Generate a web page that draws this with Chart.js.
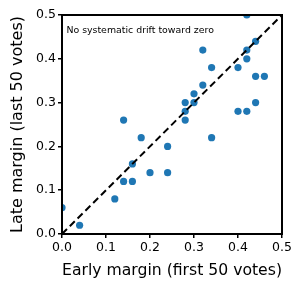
<!DOCTYPE html>
<html>
<head>
<meta charset="utf-8">
<script src="https://cdn.jsdelivr.net/npm/chart.js@4"></script>
<style>
  html, body { margin: 0; padding: 0; background: #fff; }
  #wrap { width: 302px; height: 288px; }
</style>
</head>
<body>
<div id="wrap"><canvas id="chart" width="302" height="288"></canvas></div>
<script>
// early vs late margin, one point per race
const earlyMargin = [0.42, 0.44, 0.42, 0.32, 0.42, 0.34, 0.40, 0.44, 0.46, 0.32,
  0.30, 0.28, 0.30, 0.28, 0.44, 0.40, 0.42, 0.28, 0.14, 0.18,
  0.24, 0.16, 0.20, 0.24, 0.14, 0.16, 0.12, 0.00, 0.04, 0.34];
const lateMargin = [0.50, 0.44, 0.42, 0.42, 0.40, 0.38, 0.38, 0.36, 0.36, 0.34,
  0.32, 0.30, 0.30, 0.28, 0.30, 0.28, 0.28, 0.26, 0.26, 0.22,
  0.20, 0.16, 0.14, 0.14, 0.12, 0.12, 0.08, 0.06, 0.02, 0.22];
const diagonal = [0, 0.5];
const axisTicks = [0, 0.1, 0.2, 0.3, 0.4, 0.5];
const note = 'No systematic drift toward zero';

const FONT = 'DejaVu Sans';

const points = earlyMargin.map((x, i) => ({ x: x, y: lateMargin[i] }));

const frame = {
  id: 'frame',
  afterDatasetsDraw(chart) {
    const a = chart.chartArea;
    const ctx = chart.ctx;
    ctx.save();
    ctx.strokeStyle = '#000';
    ctx.lineWidth = 2;
    ctx.strokeRect(a.left, a.top, a.right - a.left, a.bottom - a.top);
    ctx.fillStyle = '#000';
    ctx.font = '9.4px "' + FONT + '"';
    ctx.textBaseline = 'middle';
    ctx.fillText(note, a.left + 0.02 * (a.right - a.left), a.top + 0.07 * (a.bottom - a.top));
    ctx.restore();
  }
};

function axis(title, pos) {
  return {
    type: 'linear',
    position: pos,
    min: 0,
    max: 0.5,
    afterBuildTicks: (s) => { s.ticks = axisTicks.map((v) => ({ value: v })); },
    ticks: {
      color: '#000',
      font: { family: FONT, size: 12.5 },
      padding: 2,
      callback: (v) => v.toFixed(1)
    },
    grid: { display: true, drawOnChartArea: false, drawTicks: true, tickLength: 4, color: '#000', lineWidth: 1.5 },
    border: { display: true, color: '#000', width: 2 },
    title: { display: true, text: title, color: '#000', font: { family: FONT, size: 16 },
      padding: { top: 8, bottom: 8 } }
  };
}

const xAxis = axis('Early margin (first 50 votes)', 'bottom');
xAxis.afterFit = (s) => { s.height = 54; };
const yAxis = axis('Late margin (last 50 votes)', 'left');
yAxis.afterFit = (s) => { s.width = 62; };

new Chart(document.getElementById('chart'), {
  type: 'scatter',
  data: {
    datasets: [
      {
        type: 'line',
        data: diagonal.map((v) => ({ x: v, y: v })),
        borderColor: '#000',
        borderWidth: 2,
        borderDash: [7, 4],
        pointRadius: 0,
        fill: false,
        order: 0,
        clip: 0
      },
      {
        data: points,
        backgroundColor: '#1f77b4',
        borderWidth: 0,
        pointRadius: 3.6,
        pointHoverRadius: 3.6,
        order: 1,
        clip: 0
      }
    ]
  },
  options: {
    responsive: false,
    animation: false,
    devicePixelRatio: 1,
    layout: { padding: { left: 0, top: 15, right: 20, bottom: 0 } },
    plugins: { legend: { display: false }, tooltip: { enabled: false } },
    scales: { x: xAxis, y: yAxis }
  },
  plugins: [frame]
});
</script>
</body>
</html>
